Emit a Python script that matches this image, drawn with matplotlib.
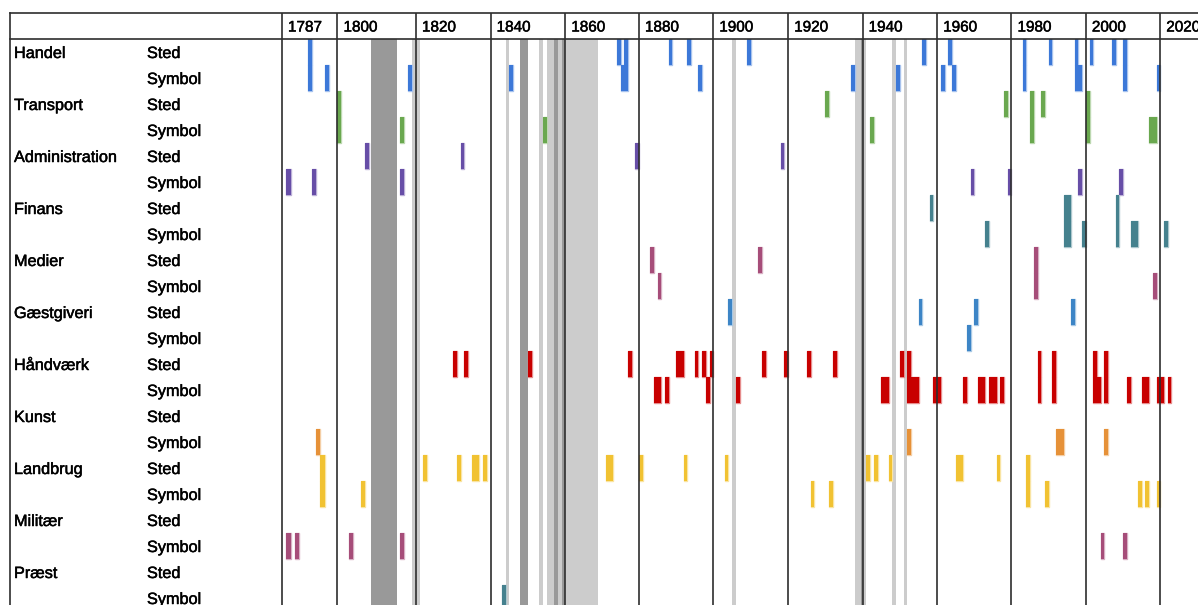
import numpy as np
import matplotlib.pyplot as plt
import matplotlib.colors as mcolors
import matplotlib.patheffects as pe

plt.rcParams['font.family'] = ['Liberation Sans', 'DejaVu Sans']

# rows of the table
categories = ['Handel', 'Transport', 'Administration', 'Finans', 'Medier', 'Gæstgiveri',
              'Håndværk', 'Kunst', 'Landbrug', 'Militær', 'Præst']
kinds = ['Sted', 'Symbol']
cat_colors = ['#3c78d8', '#6aa84f', '#674ea7', '#45818e', '#a64d79', '#3d85c6',
              '#c80000', '#e69138', '#f1c232', '#a64d79', '#45818e']

# column heads (each column = 20 years, first one starts 1787)
year_ticks = [1787, 1800, 1820, 1840, 1860, 1880, 1900, 1920, 1940, 1960, 1980, 2000, 2020]

# years marked per row (Sted / Symbol)
handel_sted = [1793, 1874, 1876, 1888, 1893, 1909, 1956, 1963, 1983, 1990, 1997, 2001, 2007, 2010]
handel_symbol = [1793, 1797, 1818, 1845, 1875, 1876, 1896, 1937, 1949, 1961, 1964, 1983, 1997, 1998,
                 2010, 2019]
transport_sted = [1800, 1930, 1978, 1985, 1988, 2000]
transport_symbol = [1800, 1816, 1854, 1942, 1985, 2000, 2017, 2018]
admin_sted = [1807, 1832, 1879, 1918]
admin_symbol = [1788, 1794, 1816, 1969, 1979, 1998, 2009]
finans_sted = [1958, 1994, 1995, 2008]
finans_symbol = [1973, 1994, 1995, 1999, 2008, 2012, 2013, 2021]
medier_sted = [1883, 1912, 1986]
medier_symbol = [1885, 1986, 2018]
gaest_sted = [1904, 1955, 1970, 1996]
gaest_symbol = [1968]
haand_sted = [1830, 1833, 1850, 1877, 1890, 1891, 1895, 1897, 1899, 1913, 1919, 1925, 1932, 1950,
              1952, 1987, 1991, 2002, 2005]
haand_symbol = [1884, 1885, 1887, 1898, 1906, 1945, 1946, 1952, 1953, 1954, 1959, 1960, 1967, 1971,
                1972, 1974, 1975, 1977, 1987, 1991, 2002, 2003, 2005, 2011, 2015, 2016, 2019, 2020,
                2022]
kunst_sted = []
kunst_symbol = [1795, 1952, 1992, 1993, 2005]
landbrug_sted = [1796, 1822, 1831, 1835, 1836, 1838, 1871, 1872, 1880, 1892, 1903, 1941, 1943, 1947,
                 1965, 1966, 1976, 1984]
landbrug_symbol = [1796, 1806, 1926, 1931, 1984, 1989, 2014, 2016, 2019]
militaer_sted = []
militaer_symbol = [1788, 1790, 1803, 1816, 2004, 2010]
praest_sted = []
praest_symbol = [1843]

rows = [handel_sted, handel_symbol, transport_sted, transport_symbol, admin_sted, admin_symbol,
        finans_sted, finans_symbol, medier_sted, medier_symbol, gaest_sted, gaest_symbol,
        haand_sted, haand_symbol, kunst_sted, kunst_symbol, landbrug_sted, landbrug_symbol,
        militaer_sted, militaer_symbol, praest_sted, praest_symbol]

# shaded periods (start, end)
bands_light = [(1819, 1821), (1844, 1845), (1853, 1854), (1855, 1857), (1858, 1859), (1860, 1869),
               (1905, 1906), (1938, 1941), (1948, 1949), (1951, 1952)]
bands_dark = [(1808.5, 1815.2), (1848, 1850), (1857, 1858), (1859, 1860), (1939.5, 1940.1)]

# ---- layout (pixels of the 1198x605 picture) ----
W, H = 1198, 605
top_y, head_y, row_h = 13, 39, 26
left_x, label_x = 10, 282
# the source table does not give every column the same width
tick_px = [282, 337.5, 416, 490.6, 565.3, 639, 713.3, 788.2, 862.6, 937.2, 1011.5, 1085.9, 1160.3]
edge_years = np.array([1700] + year_ticks + [2100], dtype=float)
edge_px = np.array([282 - 87 * 55.5 / 13] + tick_px + [1160.3 + 80 * 3.72])


def fwd(y):
    return np.interp(y, edge_years, edge_px)


def inv(p):
    return np.interp(p, edge_px, edge_years)


def tint(c, f=0.55):
    rgb = np.array(mcolors.to_rgb(c))
    return tuple(rgb + (1 - rgb) * f)


n_vis = (H - head_y) / row_h
line_c = '#2e2e2e'
txt_fx = [pe.withStroke(linewidth=0.35, foreground='black')]

fig = plt.figure(figsize=(W / 100, H / 100), dpi=100)

ax = fig.add_axes([label_x / W, 0, (W - label_x) / W, (H - head_y) / H])
ax.set_xscale('function', functions=(fwd, inv))
ax.set_xlim(year_ticks[0], float(inv(W)))
ax.set_ylim(n_vis, 0)
ax.axis('off')

for a, b in bands_light:
    ax.axvspan(a, b, color='#cccccc', lw=0, zorder=1)
for a, b in bands_dark:
    ax.axvspan(a, b, color='#999999', lw=0, zorder=1)

# bars: merge consecutive years into one block, light outline under the fill
for r, years in enumerate(rows):
    col = cat_colors[r // 2]
    ys = sorted(years)
    i = 0
    while i < len(ys):
        j = i
        while j + 1 < len(ys) and ys[j + 1] == ys[j] + 1:
            j += 1
        w = ys[j] - ys[i] + 1
        ax.bar(ys[i], 1, width=w, bottom=r, align='edge', color=col,
               edgecolor=tint(col), lw=1.0, zorder=2)
        ax.bar(ys[i], 1, width=w, bottom=r, align='edge', color=col, lw=0, zorder=3)
        i = j + 1

ax.vlines(year_ticks, 0, n_vis, colors=line_c, lw=1.2, zorder=4, clip_on=False)

# header with the year labels
hax = fig.add_axes([label_x / W, 1 - head_y / H, (W - label_x) / W, (head_y - top_y) / H], sharex=ax)
hax.set_ylim(0, 1)
hax.axis('off')
hax.vlines(year_ticks, 0, 1, colors=line_c, lw=1.2, clip_on=False)
for yr in year_ticks:
    hax.annotate(str(yr), xy=(yr, 0.5), xytext=(4.3, 0), textcoords='offset points',
                 va='center_baseline', ha='left', fontsize=11, annotation_clip=False,
                 path_effects=txt_fx)

# row labels on the left
lax = fig.add_axes([left_x / W, 0, (label_x - left_x) / W, (H - top_y) / H])
lax.set_xlim(0, label_x - left_x)
lax.set_ylim(n_vis, -1)
lax.axis('off')
for i, cat in enumerate(categories):
    lax.text(4, 2 * i + 0.5, cat, va='center_baseline', ha='left', fontsize=11.7, path_effects=txt_fx)
    for k, kind in enumerate(kinds):
        lax.text(137, 2 * i + k + 0.5, kind, va='center_baseline', ha='left', fontsize=11.7,
                 path_effects=txt_fx)

# table frame
for yy in (top_y, head_y):
    fig.add_artist(plt.Line2D([left_x / W, 1], [1 - yy / H] * 2, color=line_c, lw=1.2))
fig.add_artist(plt.Line2D([left_x / W] * 2, [0, 1 - top_y / H], color=line_c, lw=1.2))

fig.savefig('out.png', dpi=100)
